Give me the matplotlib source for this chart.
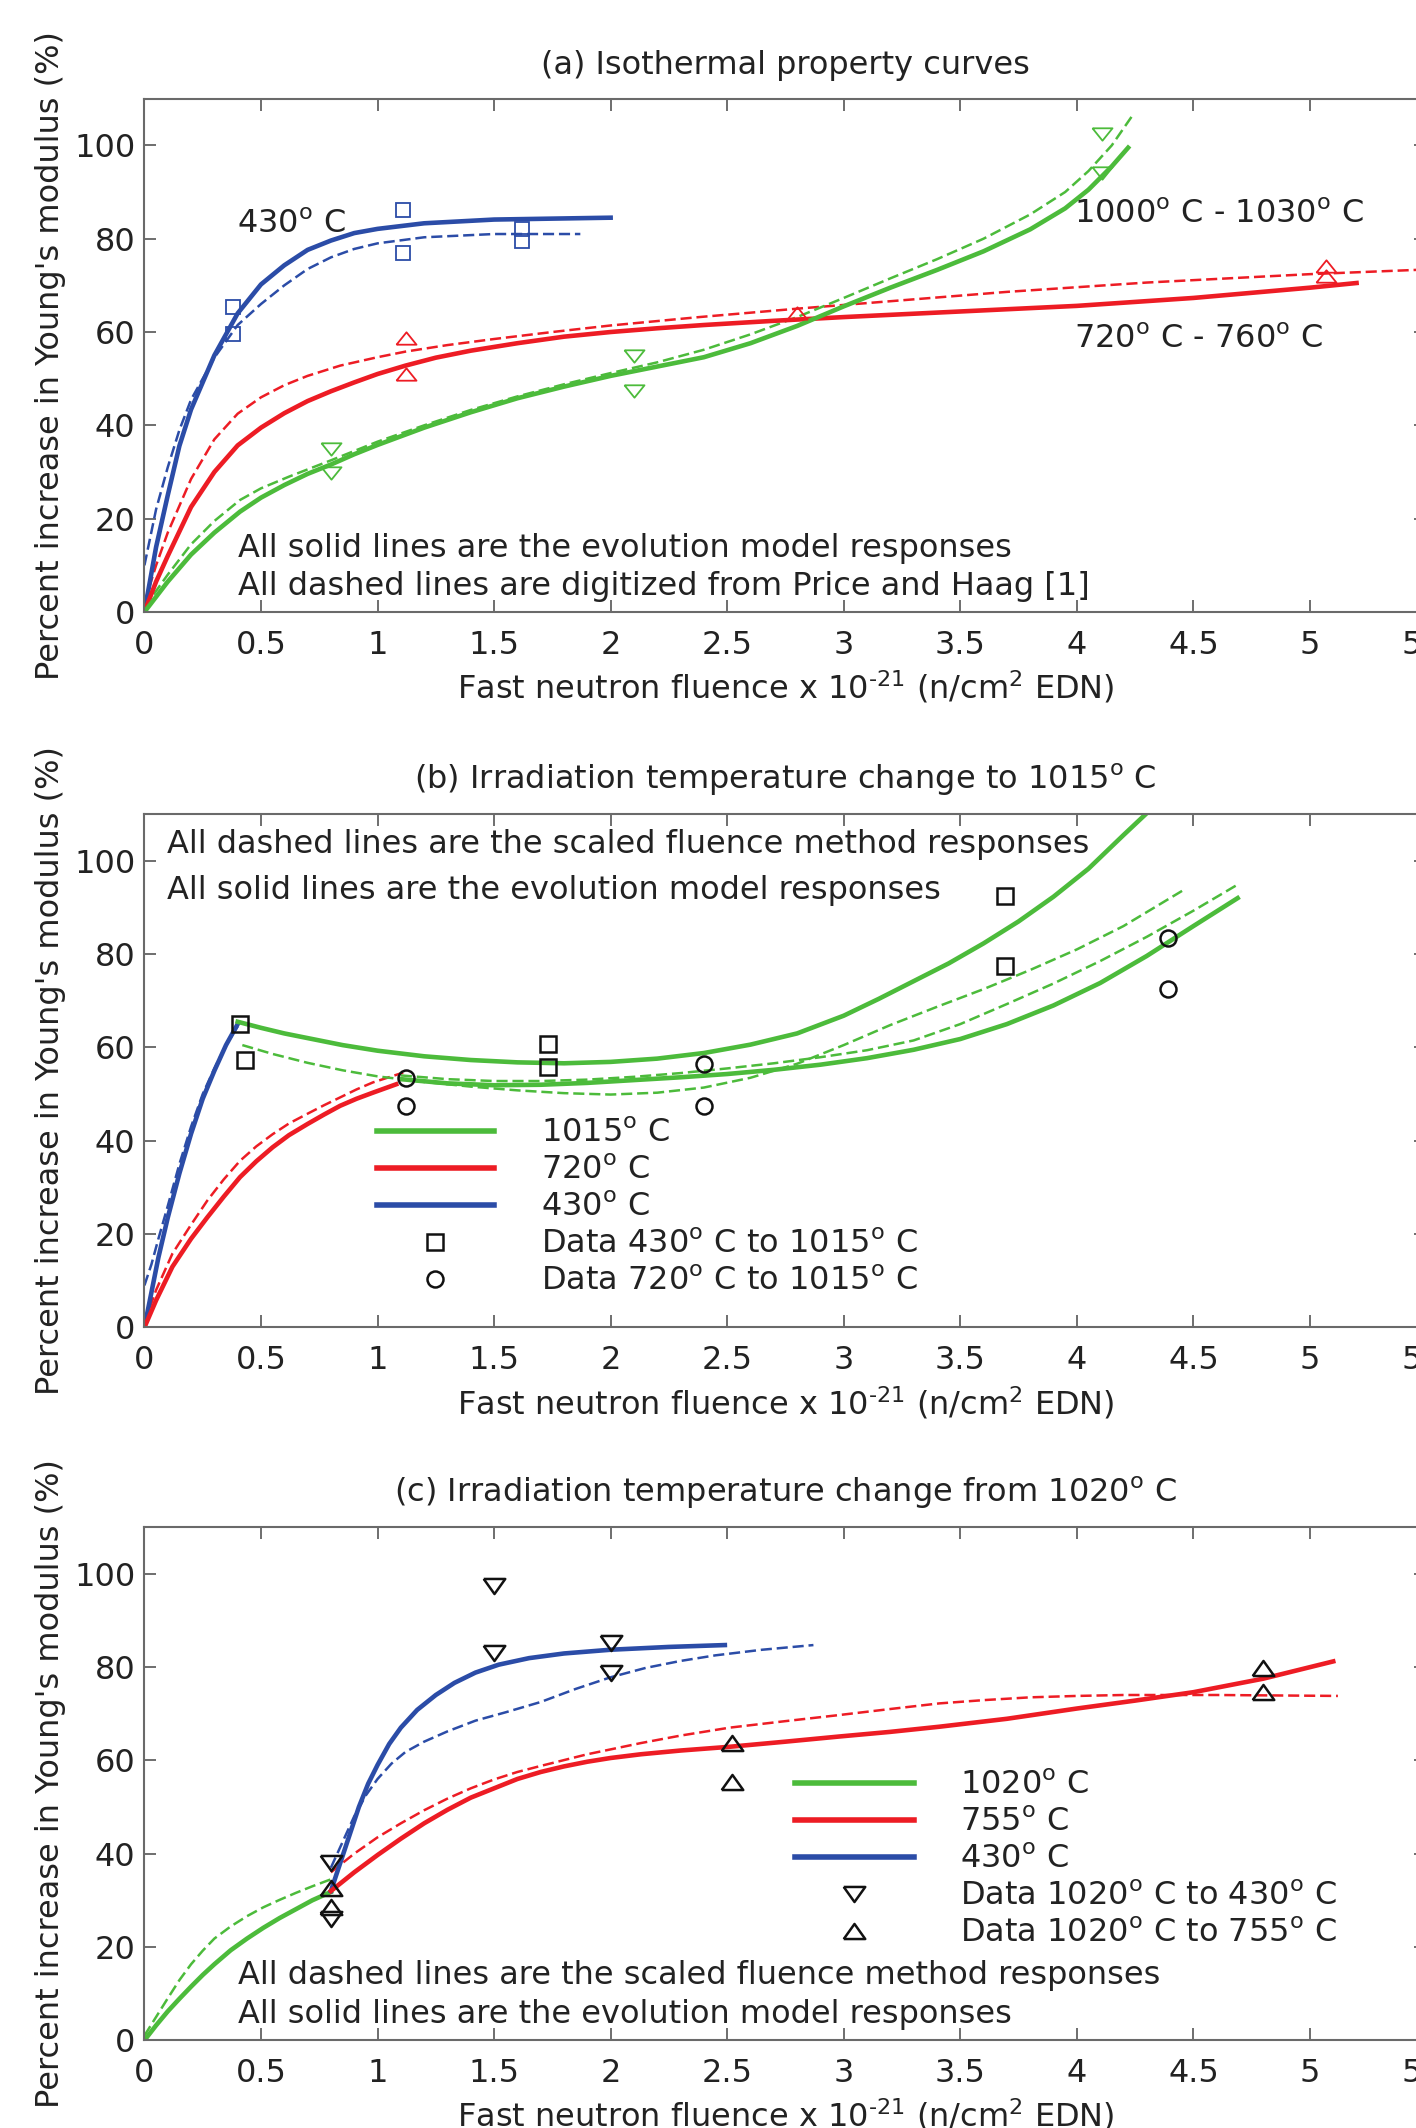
import matplotlib
matplotlib.use('Agg')
import matplotlib.pyplot as plt
from matplotlib.lines import Line2D

plt.rcParams['font.family'] = ['DejaVu Sans']
plt.rcParams['mathtext.fontset'] = 'dejavusans'
plt.rcParams['mathtext.default'] = 'regular'
plt.rcParams['lines.scale_dashes'] = False

GREEN = '#4cbb3b'
RED = '#ed1c24'
BLUE = '#2b4ca7'
FS = 23
LW = 3.3
LWD = 1.8
DASH = (8, 3.5)
TRI_UP = [(-1, -0.62), (1, -0.62), (0, 0.62), (-1, -0.62)]
TRI_DN = [(-1, 0.62), (1, 0.62), (0, -0.62), (-1, 0.62)]
TRI_UP_C = [(-1, -0.7), (1, -0.7), (0, 0.7), (-1, -0.7)]
TRI_DN_C = [(-1, 0.7), (1, 0.7), (0, -0.7), (-1, 0.7)]

# ---------------- panel (a) ----------------
a_blue_x = [0, 0.05, 0.1, 0.15, 0.2, 0.3, 0.4, 0.5, 0.6, 0.7, 0.8, 0.9, 1.0, 1.2, 1.5, 2.0]
a_blue_y = [0, 13.9, 25, 35.6, 43.4, 55, 64, 70.2, 74.3, 77.6, 79.6, 81.2, 82.1, 83.3, 84.1, 84.5]
a_blue_dash_x = [0, 0.05, 0.1, 0.15, 0.2, 0.3, 0.4, 0.5, 0.6, 0.7, 0.8, 0.9, 1.0, 1.2, 1.5, 1.87]
a_blue_dash_y = [10, 22, 31, 39, 45.5, 54.5, 61.5, 66, 70, 73.5, 76, 77.8, 79, 80.3, 81, 81]
a_red_x = [0, 0.05, 0.1, 0.2, 0.3, 0.4, 0.5, 0.6, 0.7, 0.8, 0.9, 1.0, 1.12, 1.25, 1.4,
           1.6, 1.8, 2.0, 2.2, 2.4, 2.7, 3.0, 3.5, 4.0, 4.5, 5.0, 5.2]
a_red_y = [0, 6.5, 12, 22.5, 30, 35.7, 39.5, 42.6, 45.2, 47.3, 49.2, 51, 52.8, 54.5, 56,
           57.6, 59, 60, 60.8, 61.5, 62.4, 63.2, 64.4, 65.6, 67.3, 69.5, 70.5]
a_red_dash_x = [0, 0.05, 0.1, 0.2, 0.3, 0.4, 0.5, 0.6, 0.7, 0.84, 1.0, 1.12, 1.3, 1.5,
                1.75, 2.0, 2.38, 2.8, 3.2, 3.7, 4.3, 5.0, 5.6]
a_red_dash_y = [2, 10, 17, 28.5, 37, 42.5, 46, 48.6, 50.6, 52.8, 54.6, 55.8, 57.2, 58.5,
                60, 61.4, 63.2, 65, 66.6, 68.6, 70.6, 72.4, 73.6]
a_green_x = [0, 0.1, 0.2, 0.3, 0.41, 0.5, 0.6, 0.7, 0.8, 0.9, 1.0, 1.2, 1.4, 1.6, 1.8,
             2.0, 2.2, 2.4, 2.6, 2.8, 3.0, 3.2, 3.4, 3.6, 3.8, 3.95, 4.05, 4.15, 4.22]
a_green_y = [0, 6.5, 12.3, 17, 21.5, 24.5, 27.2, 29.6, 31.6, 33.8, 35.8, 39.5, 42.8, 45.8,
             48.3, 50.6, 52.6, 54.6, 57.6, 61.3, 65.5, 69.5, 73.3, 77.3, 82, 86.5, 90.5,
             95.5, 99.5]
a_green_dash_x = [0, 0.1, 0.2, 0.3, 0.41, 0.5, 0.62, 0.8, 1.0, 1.2, 1.4, 1.6, 1.8, 2.0,
                  2.2, 2.4, 2.6, 2.8, 3.0, 3.2, 3.4, 3.6, 3.8, 3.95, 4.05, 4.15, 4.24]
a_green_dash_y = [1, 8, 14.5, 19.5, 24, 26.5, 29, 32.5, 36.5, 40, 43.3, 46.2, 48.8, 51.2,
                  53.5, 56.2, 59.5, 63.2, 67.3, 71.5, 75.6, 80, 85.2, 90, 94.5, 100, 106.5]
a_sq_x = [0.38, 0.38, 1.11, 1.11, 1.62, 1.62]
a_sq_y = [65.3, 59.5, 86.2, 77, 82, 79.4]
a_up_x = [1.12, 1.12, 2.8, 5.07, 5.07]
a_up_y = [58.7, 50.9, 64, 74.2, 72]
a_dn_x = [0.8, 0.8, 2.1, 2.1, 4.11, 4.11]
a_dn_y = [34.9, 29.8, 54.8, 47.4, 102.5, 94.1]

# ---------------- panel (b) ----------------
b_blue_x = [0, 0.03, 0.06, 0.1, 0.15, 0.2, 0.25, 0.3, 0.35, 0.40]
b_blue_y = [0, 7.5, 15, 23.5, 33, 41.5, 49, 55, 60.5, 65]
b_blue_dash_x = [0, 0.03, 0.06, 0.1, 0.15, 0.2, 0.25, 0.3, 0.35, 0.40]
b_blue_dash_y = [9, 13.5, 19, 26, 35, 43, 50, 55.5, 60.5, 64.5]
b_red_x = [0, 0.05, 0.12, 0.2, 0.27, 0.34, 0.41, 0.48, 0.55, 0.62, 0.70, 0.77, 0.84,
           0.91, 0.98, 1.08]
b_red_y = [0, 5.8, 13, 19, 23.6, 28, 32.2, 35.6, 38.6, 41.2, 43.6, 45.6, 47.5, 49,
           50.3, 52.1]
b_red_dash_x = [0, 0.05, 0.12, 0.2, 0.27, 0.34, 0.41, 0.48, 0.55, 0.62, 0.70, 0.77,
                0.84, 0.91, 0.98, 1.11]
b_red_dash_y = [1, 8, 15.8, 22, 27.2, 31.7, 35.7, 38.8, 41.4, 43.7, 45.8, 47.6, 49.3,
                51, 52.5, 54.6]
b_g1_x = [0.40, 0.5, 0.6, 0.7, 0.85, 1.0, 1.2, 1.4, 1.6, 1.8, 2.0, 2.2, 2.4, 2.6, 2.8,
          3.0, 3.15, 3.3, 3.45, 3.6, 3.75, 3.9, 4.05, 4.2, 4.3, 4.4]
b_g1_y = [65.5, 64.2, 63, 62, 60.5, 59.3, 58.1, 57.3, 56.8, 56.6, 56.9, 57.6, 58.8,
          60.6, 63, 66.8, 70.4, 74.2, 78, 82.3, 87, 92.3, 98.3, 105.5, 110.2, 115]
b_g1_dash_x = [0.42, 0.55, 0.7, 0.85, 1.0, 1.2, 1.4, 1.6, 1.8, 2.0, 2.2, 2.4, 2.6, 2.8,
               3.0, 3.2, 3.4, 3.6, 3.8, 4.0, 4.2, 4.46]
b_g1_dash_y = [60.5, 58.6, 56.7, 55.1, 53.8, 52.6, 51.6, 50.8, 50.2, 49.9, 50.3, 51.4,
               53.5, 56.5, 60.5, 64.8, 68.7, 72.5, 76.6, 81, 86, 93.8]
b_g2_x = [1.10, 1.3, 1.5, 1.7, 1.9, 2.1, 2.3, 2.5, 2.7, 2.9, 3.1, 3.3, 3.5, 3.7, 3.9,
          4.1, 4.3, 4.5, 4.69]
b_g2_y = [53.2, 52.3, 51.9, 52, 52.4, 53, 53.6, 54.3, 55.2, 56.3, 57.7, 59.5, 61.8, 65,
          69, 73.8, 79.6, 86, 92]
b_g2_dash_x = [1.10, 1.3, 1.5, 1.7, 1.9, 2.1, 2.3, 2.5, 2.7, 2.9, 3.1, 3.3, 3.5, 3.7,
               3.9, 4.1, 4.3, 4.5, 4.69]
b_g2_dash_y = [54, 53.2, 52.8, 52.8, 53.1, 53.7, 54.5, 55.5, 56.6, 57.9, 59.4, 61.5,
               65, 69.3, 73.7, 78.5, 83.7, 89.3, 94.9]
b_sq_x = [0.41, 0.43, 1.73, 1.73, 3.69, 3.69]
b_sq_y = [65, 57.3, 60.8, 55.7, 92.5, 77.5]
b_ci_x = [1.12, 1.12, 2.40, 2.40, 4.39, 4.39]
b_ci_y = [53.5, 47.5, 56.4, 47.5, 83.4, 72.6]

# ---------------- panel (c) ----------------
c_green_x = [0, 0.05, 0.1, 0.15, 0.2, 0.25, 0.3, 0.37, 0.44, 0.51, 0.58, 0.65, 0.72, 0.8]
c_green_y = [0, 3.2, 6.2, 8.9, 11.5, 14, 16.3, 19.3, 21.8, 24.1, 26.2, 28.1, 30, 31.8]
c_green_dash_x = [0, 0.05, 0.1, 0.15, 0.2, 0.25, 0.3, 0.37, 0.44, 0.51, 0.58, 0.65, 0.72, 0.8]
c_green_dash_y = [1, 5, 9, 12.9, 16.3, 19.2, 21.8, 24.4, 26.6, 28.5, 30.1, 31.6, 33, 34.5]
c_blue_x = [0.8, 0.84, 0.88, 0.92, 0.96, 1.0, 1.05, 1.1, 1.17, 1.25, 1.33, 1.42, 1.52,
            1.65, 1.8, 2.0, 2.25, 2.49]
c_blue_y = [32, 38, 44, 50, 55, 59, 63.5, 67, 70.8, 74, 76.6, 78.8, 80.5, 81.9, 82.9,
            83.7, 84.3, 84.7]
c_blue_dash_x = [0.8, 0.85, 0.9, 0.95, 1.0, 1.06, 1.12, 1.2, 1.3, 1.42, 1.55, 1.7, 1.85,
                 2.0, 2.15, 2.3, 2.45, 2.65, 2.87]
c_blue_dash_y = [37, 42.5, 48, 52.5, 56, 59.3, 61.8, 64, 66.2, 68.5, 70.3, 72.5, 75.3,
                 77.8, 79.8, 81.3, 82.5, 83.7, 84.7]
c_red_x = [0.8, 0.9, 1.0, 1.1, 1.2, 1.3, 1.4, 1.5, 1.6, 1.7, 1.8, 1.9, 2.0, 2.13, 2.3,
           2.51, 2.75, 2.98, 3.2, 3.41, 3.7, 4.0, 4.25, 4.5, 4.8, 5.1]
c_red_y = [32, 36, 39.7, 43.2, 46.5, 49.4, 52, 54, 56, 57.5, 58.7, 59.7, 60.5, 61.3,
           62.1, 62.9, 64, 65.1, 66.1, 67.2, 68.9, 71.1, 72.8, 74.6, 77.5, 81.2]
c_red_dash_x = [0.8, 0.9, 1.0, 1.1, 1.2, 1.3, 1.4, 1.5, 1.6, 1.7, 1.9, 2.13, 2.3, 2.51,
                2.75, 2.98, 3.2, 3.41, 3.6, 3.8, 4.0, 4.2, 4.6, 5.12]
c_red_dash_y = [36, 40, 43.5, 46.5, 49.3, 51.8, 54, 55.9, 57.5, 58.8, 61.3, 63.7, 65.3,
                67, 68.4, 69.7, 71, 72.2, 72.9, 73.5, 73.8, 74, 74, 73.8]
c_dn_x = [0.8, 0.8, 1.5, 1.5, 2.0, 2.0]
c_dn_y = [37.9, 26, 97.4, 82.9, 85.1, 78.7]
c_up_x = [0.8, 0.8, 2.52, 2.52, 4.8, 4.8]
c_up_y = [32.6, 28.5, 63.7, 55.4, 79.8, 74.6]

x_ticks = [0, 0.5, 1, 1.5, 2, 2.5, 3, 3.5, 4, 4.5, 5, 5.5]
x_tick_labels = ['0', '0.5', '1', '1.5', '2', '2.5', '3', '3.5', '4', '4.5', '5', '5.5']
y_ticks = [0, 20, 40, 60, 80, 100]

titles = ['(a) Isothermal property curves',
          '(b) Irradiation temperature change to 1015$^o$ C',
          '(c) Irradiation temperature change from 1020$^o$ C']
xlabel = r'Fast neutron fluence x 10$^{\text{-}21}$ (n/cm$^2$ EDN)'
ylabel = "Percent increase in Young's modulus (%)"


def style_axes(ax, title):
    ax.set_xlim(0, 5.5)
    ax.set_ylim(0, 110)
    ax.set_xticks(x_ticks)
    ax.set_xticklabels(x_tick_labels)
    ax.set_yticks(y_ticks)
    ax.tick_params(direction='in', length=8.5, width=1.2, color='#555555',
                   top=True, right=True, labelsize=FS, labelcolor='#222222')
    ax.tick_params(axis='x', pad=13)
    ax.tick_params(axis='y', pad=6.5)
    for s in ax.spines.values():
        s.set_color('#6a6a6a')
        s.set_linewidth(1.5)
    ax.set_title(title, fontsize=FS, pad=18, color='#222222')
    ax.set_xlabel(xlabel, fontsize=FS, color='#222222', va='top')
    ax.xaxis.set_label_coords(0.5, -0.111)
    ax.set_ylabel(ylabel, fontsize=FS, color='#222222')
    ax.yaxis.set_label_coords(-0.061, 0.5)


fig = plt.figure(figsize=(14.16, 21.28), dpi=100)
ax_a = fig.add_axes([0.1020, 0.71241, 0.9054, 0.24121])
ax_b = fig.add_axes([0.1020, 0.37622, 0.9054, 0.24121])
ax_c = fig.add_axes([0.1020, 0.04121, 0.9054, 0.24121])

# (a)
ax = ax_a
ax.plot(a_blue_dash_x, a_blue_dash_y, color=BLUE, lw=LWD, dashes=DASH)
ax.plot(a_red_dash_x, a_red_dash_y, color=RED, lw=LWD, dashes=DASH)
ax.plot(a_green_dash_x, a_green_dash_y, color=GREEN, lw=LWD, dashes=DASH)
ax.plot(a_blue_x, a_blue_y, color=BLUE, lw=LW)
ax.plot(a_red_x, a_red_y, color=RED, lw=LW)
ax.plot(a_green_x, a_green_y, color=GREEN, lw=LW)
ax.plot(a_sq_x, a_sq_y, ls='none', marker='s', ms=10, mfc='none', mec=BLUE, mew=1.3)
ax.plot(a_up_x, a_up_y, ls='none', marker=TRI_UP, ms=14.4, mfc='none', mec=RED, mew=1.3)
ax.plot(a_dn_x, a_dn_y, ls='none', marker=TRI_DN, ms=14.4, mfc='none', mec=GREEN, mew=1.3)
ax.text(0.398, 81.2, '430$^o$ C', fontsize=FS, color='#222222')
ax.text(3.99, 83.3, '1000$^o$ C - 1030$^o$ C', fontsize=FS, color='#222222')
ax.text(3.99, 56.6, '720$^o$ C - 760$^o$ C', fontsize=FS, color='#222222')
ax.text(0.402, 11.7, 'All solid lines are the evolution model responses',
        fontsize=FS, color='#222222')
ax.text(0.402, 3.7, 'All dashed lines are digitized from Price and Haag [1]',
        fontsize=FS, color='#222222')
style_axes(ax, titles[0])

# (b)
ax = ax_b
ax.plot(b_blue_dash_x, b_blue_dash_y, color=BLUE, lw=LWD, dashes=DASH)
ax.plot(b_red_dash_x, b_red_dash_y, color=RED, lw=LWD, dashes=DASH)
ax.plot(b_g1_dash_x, b_g1_dash_y, color=GREEN, lw=LWD, dashes=DASH)
ax.plot(b_g2_dash_x, b_g2_dash_y, color=GREEN, lw=LWD, dashes=DASH)
ax.plot(b_blue_x, b_blue_y, color=BLUE, lw=LW)
ax.plot(b_red_x, b_red_y, color=RED, lw=LW)
ax.plot(b_g1_x, b_g1_y, color=GREEN, lw=LW)
ax.plot(b_g2_x, b_g2_y, color=GREEN, lw=LW)
ax.plot(b_sq_x, b_sq_y, ls='none', marker='s', ms=11, mfc='none', mec='#111111', mew=1.8)
ax.plot(b_ci_x, b_ci_y, ls='none', marker='o', ms=11.5, mfc='none', mec='#111111', mew=1.8)
ax.text(0.097, 101.7, 'All dashed lines are the scaled fluence method responses',
        fontsize=FS, color='#222222')
ax.text(0.097, 91.9, 'All solid lines are the evolution model responses',
        fontsize=FS, color='#222222')
handles = [Line2D([], [], color=GREEN, lw=4),
           Line2D([], [], color=RED, lw=4),
           Line2D([], [], color=BLUE, lw=4),
           Line2D([], [], ls='none', marker='s', ms=11, mfc='none', mec='#111111', mew=1.8),
           Line2D([], [], ls='none', marker='o', ms=11.5, mfc='none', mec='#111111', mew=1.8)]
labels = ['1015$^o$ C', '720$^o$ C', '430$^o$ C',
          'Data 430$^o$ C to 1015$^o$ C', 'Data 720$^o$ C to 1015$^o$ C']
ax.legend(handles, labels, loc='upper left', bbox_to_anchor=(0.996, 44.9),
          bbox_transform=ax.transData, frameon=False, borderpad=0, borderaxespad=0,
          handlelength=3.68, handletextpad=1.46, labelspacing=0.19, fontsize=FS,
          labelcolor='#222222')
style_axes(ax, titles[1])

# (c)
ax = ax_c
ax.plot(c_green_dash_x, c_green_dash_y, color=GREEN, lw=LWD, dashes=DASH)
ax.plot(c_blue_dash_x, c_blue_dash_y, color=BLUE, lw=LWD, dashes=DASH)
ax.plot(c_red_dash_x, c_red_dash_y, color=RED, lw=LWD, dashes=DASH)
ax.plot(c_green_x, c_green_y, color=GREEN, lw=LW)
ax.plot(c_blue_x, c_blue_y, color=BLUE, lw=LW)
ax.plot(c_red_x, c_red_y, color=RED, lw=LW)
ax.plot(c_dn_x, c_dn_y, ls='none', marker=TRI_DN_C, ms=15.5, mfc='none', mec='#111111', mew=1.8)
ax.plot(c_up_x, c_up_y, ls='none', marker=TRI_UP_C, ms=15.5, mfc='none', mec='#111111', mew=1.8)
ax.text(0.40, 12.0, 'All dashed lines are the scaled fluence method responses',
        fontsize=FS, color='#222222')
ax.text(0.40, 3.8, 'All solid lines are the evolution model responses',
        fontsize=FS, color='#222222')
handles = [Line2D([], [], color=GREEN, lw=4),
           Line2D([], [], color=RED, lw=4),
           Line2D([], [], color=BLUE, lw=4),
           Line2D([], [], ls='none', marker=TRI_DN_C, ms=15.5, mfc='none', mec='#111111', mew=1.8),
           Line2D([], [], ls='none', marker=TRI_UP_C, ms=15.5, mfc='none', mec='#111111', mew=1.8)]
labels = ['1020$^o$ C', '755$^o$ C', '430$^o$ C',
          'Data 1020$^o$ C to 430$^o$ C', 'Data 1020$^o$ C to 755$^o$ C']
ax.legend(handles, labels, loc='upper left', bbox_to_anchor=(2.79, 57.9),
          bbox_transform=ax.transData, frameon=False, borderpad=0, borderaxespad=0,
          handlelength=3.72, handletextpad=1.46, labelspacing=0.19, fontsize=FS,
          labelcolor='#222222')
style_axes(ax, titles[2])

fig.savefig('out.png', dpi=100)
